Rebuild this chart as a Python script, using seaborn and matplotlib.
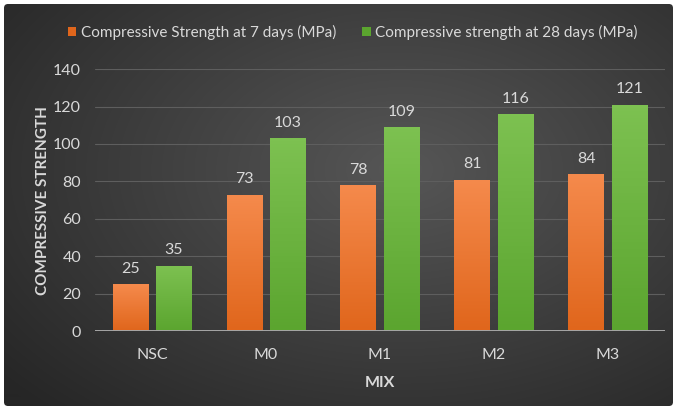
import numpy as np
import pandas as pd
import seaborn as sns
import matplotlib.pyplot as plt
from matplotlib.patches import Patch, FancyBboxPatch
from matplotlib.colors import to_rgb

mixes = ["NSC", "M0", "M1", "M2", "M3"]
strength_7d = [25, 73, 78, 81, 84]
strength_28d = [35, 103, 109, 116, 121]
series_names = ["Compressive Strength at 7 days (MPa)",
                "Compressive strength at 28 days (MPa)"]
y_ticks = [0, 20, 40, 60, 80, 100, 120, 140]

df = pd.DataFrame({
    "Mix": mixes * 2,
    "Strength": strength_7d + strength_28d,
    "Series": [series_names[0]] * len(mixes) + [series_names[1]] * len(mixes),
})

sns.set_theme(style="dark")
plt.rcParams["font.family"] = ["Lato", "DejaVu Sans"]

text_col = "#d9d9d9"
orange_top, orange_bot = "#f58a4c", "#e0661c"
green_top, green_bot = "#7dc151", "#5ba52f"

fig = plt.figure(figsize=(6.76, 4.11), dpi=100)
fig.patch.set_facecolor("white")

# dark radial-gradient backdrop
bg = fig.add_axes([0, 0, 1, 1], zorder=-10)
bg.set_xlim(0, 676)
bg.set_ylim(411, 0)
bg.axis("off")
yy, xx = np.mgrid[0:411, 0:676]
r = np.sqrt(((xx - 400) / 520.0) ** 2 + ((yy - 170) / 330.0) ** 2)
r = np.clip(r, 0, 1)
c_center = np.array(to_rgb("#565656"))
c_edge = np.array(to_rgb("#262626"))
img = c_center[None, None, :] * (1 - r[..., None]) + c_edge[None, None, :] * r[..., None]
panel = FancyBboxPatch((4, 4), 669, 402, boxstyle="round,pad=0,rounding_size=4",
                       facecolor="none", edgecolor="none")
bg.add_patch(panel)
im = bg.imshow(img, extent=(0, 676, 411, 0), aspect="auto")
im.set_clip_path(panel)

ax = fig.add_axes([0.1405, 0.194, 0.843, 0.638])
ax.set_facecolor("none")
sns.barplot(data=df, x="Mix", y="Strength", hue="Series", order=mixes,
            hue_order=series_names, palette=[orange_bot, green_bot],
            width=0.76, gap=0.18, ax=ax, legend=False, saturation=1,
            linewidth=0, zorder=3)

ax.set_ylim(0, 140)
ax.set_xlim(-0.5, len(mixes) - 0.5)
ax.set_yticks(y_ticks)
ax.grid(axis="y", color="#5e5e5e", linewidth=0.8, zorder=0)
ax.grid(axis="x", visible=False)
for s in ax.spines.values():
    s.set_visible(False)
ax.axhline(0, color="#a6a6a6", linewidth=1.4, zorder=4)
ax.tick_params(axis="both", length=0, colors=text_col, labelsize=11.5)
ax.tick_params(axis="x", pad=12)
ax.tick_params(axis="y", pad=10)
ax.set_xlabel("MIX", color=text_col, fontsize=11.5, fontweight="bold", labelpad=10)
ax.set_ylabel("COMPRESSIVE STRENGTH", color=text_col, fontsize=11,
              fontweight="bold", labelpad=2)

# vertical gradient fill on each bar, plus value labels
for cont, (top, bot) in zip(ax.containers, [(orange_top, orange_bot), (green_top, green_bot)]):
    grad = np.linspace(0, 1, 64)[:, None, None]
    t, b = np.array(to_rgb(top)), np.array(to_rgb(bot))
    gimg = t * (1 - grad) + b * grad
    for bar in cont:
        x0, w, h = bar.get_x(), bar.get_width(), bar.get_height()
        gi = ax.imshow(gimg, extent=(x0, x0 + w, 0, h), aspect="auto",
                       zorder=3.5, origin="upper")
        gi.set_clip_path(bar)
    ax.bar_label(cont, fmt="%d", padding=6, color=text_col, fontsize=11.5)
ax.set_xlim(-0.5, len(mixes) - 0.5)
ax.set_ylim(0, 140)

handles = [Patch(facecolor=orange_bot, edgecolor="none"),
           Patch(facecolor=green_bot, edgecolor="none")]
leg = fig.legend(handles, series_names, loc="center", bbox_to_anchor=(0.522, 0.922),
                 ncol=2, frameon=False, fontsize=11, handlelength=0.55,
                 handleheight=0.55, handletextpad=0.3, columnspacing=1.7)
for t in leg.get_texts():
    t.set_color(text_col)

fig.savefig("out.png", dpi=100)
